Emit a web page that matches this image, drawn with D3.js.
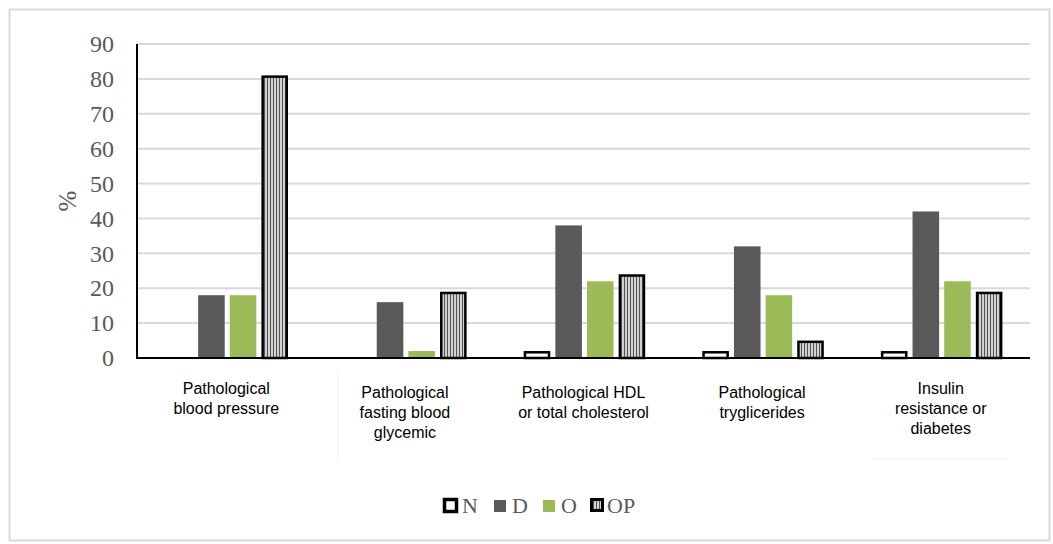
<!DOCTYPE html>
<html>
<head>
<meta charset="utf-8">
<script src="https://cdn.jsdelivr.net/npm/d3@7"></script>
<style>
  body { margin: 0; background: #fff; }
</style>
</head>
<body>
<div id="vis"></div>
<script>
// chart data
const categories = [
    ['Pathological', 'blood pressure'],
    ['Pathological', 'fasting blood', 'glycemic'],
    ['Pathological HDL', 'or total cholesterol'],
    ['Pathological', 'tryglicerides'],
    ['Insulin', 'resistance or', 'diabetes']
]
const seriesNames = ['N', 'D', 'O', 'OP']
const valuesN = [0, 0, 2, 2, 2]
const valuesD = [18, 16, 38, 32, 42]
const valuesO = [18, 2, 22, 18, 22]
const valuesOP = [81, 19, 24, 5, 19]
const yTicks = [0, 10, 20, 30, 40, 50, 60, 70, 80, 90]

const width = 1053
const height = 544
const plot = { left: 137, right: 1030, top: 44, bottom: 358 }

const svg = d3.select('#vis')
    .append('svg')
    .attr('width', width)
    .attr('height', height)

//stripes for the OP bars
const defs = svg.append('defs')
const pat = defs.append('pattern')
    .attr('id', 'stripes')
    .attr('patternUnits', 'userSpaceOnUse')
    .attr('width', 3)
    .attr('height', 10)
pat.append('rect').attr('width', 3).attr('height', 10).attr('fill', '#d0d0d0')
pat.append('rect').attr('width', 1).attr('height', 10).attr('fill', '#555')

//outer frame
svg.append('rect')
    .attr('x', 9.5).attr('y', 9.5)
    .attr('width', 1040).attr('height', 531)
    .attr('fill', 'none')
    .attr('stroke', '#d9d9d9')
    .attr('stroke-width', 2)

const y = d3.scaleLinear()
    .domain([0, 90])
    .range([plot.bottom, plot.top])

const x0 = d3.scaleBand()
    .domain(d3.range(categories.length))
    .range([plot.left, plot.right])

const x1 = d3.scaleBand()
    .domain(seriesNames)
    .range([29.5, 151])
    .paddingInner(0.16)

//gridlines
svg.append('g')
    .selectAll('line')
    .data(yTicks.filter(d => d > 0))
    .enter()
    .append('line')
    .attr('x1', plot.left).attr('x2', plot.right)
    .attr('y1', d => y(d)).attr('y2', d => y(d))
    .attr('stroke', '#d9d9d9')
    .attr('stroke-width', 2)

//y axis labels
const yAxis = d3.axisLeft(y).tickValues(yTicks).tickSize(0).tickPadding(23)
const gy = svg.append('g')
    .attr('transform', `translate(${plot.left},0)`)
    .call(yAxis)
gy.select('.domain').remove()
gy.selectAll('text')
    .attr('font-family', 'Liberation Serif, serif')
    .attr('font-size', 24)
    .attr('fill', '#595959')

svg.append('text')
    .attr('transform', 'translate(76,201) rotate(-90)')
    .attr('text-anchor', 'middle')
    .attr('font-family', 'Liberation Serif, serif')
    .attr('font-size', 25)
    .attr('fill', '#595959')
    .text('%')

//bars
const series = [
    { name: 'N', values: valuesN },
    { name: 'D', values: valuesD },
    { name: 'O', values: valuesO },
    { name: 'OP', values: valuesOP }
]
const fills = { N: '#fff', D: '#595959', O: '#9bbb59', OP: 'url(#stripes)' }
const strokes = { N: '#000', D: 'none', O: 'none', OP: '#000' }

series.forEach(s => {
    const inset = strokes[s.name] !== 'none' ? 1.25 : 0
    svg.append('g')
        .selectAll('rect')
        .data(s.values.map((v, i) => ({ i, v })).filter(d => d.v > 0))
        .enter()
        .append('rect')
        .attr('x', d => x0(d.i) + x1(s.name) + inset)
        .attr('width', x1.bandwidth() - 2 * inset)
        .attr('y', d => y(d.v) + inset)
        .attr('height', d => y(0) - y(d.v) - inset)
        .attr('fill', fills[s.name])
        .attr('stroke', strokes[s.name])
        .attr('stroke-width', 2.5)
})

//axis lines
svg.append('line')
    .attr('x1', plot.left).attr('x2', plot.left)
    .attr('y1', plot.top).attr('y2', plot.bottom)
    .attr('stroke', '#000').attr('stroke-width', 2)
svg.append('line')
    .attr('x1', plot.left - 1).attr('x2', plot.right)
    .attr('y1', plot.bottom).attr('y2', plot.bottom)
    .attr('stroke', '#000').attr('stroke-width', 2)

//category labels
const labels = svg.append('g')
    .selectAll('text')
    .data(categories)
    .enter()
    .append('text')
    .attr('text-anchor', 'middle')
    .attr('font-family', 'Liberation Sans, Arial, sans-serif')
    .attr('font-size', 16)
    .attr('fill', '#000')
    .attr('x', (d, i) => x0(i) + x0.bandwidth() / 2)
    .attr('y', (d, i) => i === 0 || i === 4 ? 394 : 398)
labels.selectAll('tspan')
    .data(d => d)
    .enter()
    .append('tspan')
    .attr('x', function () { return this.parentNode.getAttribute('x') })
    .attr('dy', (d, i) => i === 0 ? 0 : 20)
    .text(d => d)

//faint text box edges
svg.append('line')
    .attr('x1', 338).attr('x2', 338).attr('y1', 373).attr('y2', 461)
    .attr('stroke', '#eeeeee')
svg.append('line')
    .attr('x1', 873).attr('x2', 1007).attr('y1', 459).attr('y2', 459)
    .attr('stroke', '#eeeee8')

//legend
const legendX = [443, 494, 543, 590]
const legend = svg.append('g')
    .selectAll('g')
    .data(seriesNames)
    .enter()
    .append('g')
    .attr('transform', (d, i) => `translate(${legendX[i]},498)`)
legend.append('rect')
    .attr('x', d => d === 'N' || d === 'OP' ? 1.5 : 0)
    .attr('y', d => d === 'N' || d === 'OP' ? 1.5 : 2)
    .attr('width', d => d === 'N' ? 12 : (d === 'OP' ? 11 : 12))
    .attr('height', d => d === 'N' ? 12 : (d === 'OP' ? 11 : 12))
    .attr('fill', d => fills[d])
    .attr('stroke', d => strokes[d])
    .attr('stroke-width', d => d === 'N' ? 3.5 : 3)
legend.append('text')
    .attr('x', d => d === 'N' ? 19 : (d === 'OP' ? 17 : 18))
    .attr('y', 15)
    .attr('font-family', 'Liberation Serif, serif')
    .attr('font-size', 22)
    .attr('fill', '#595959')
    .text(d => d)
</script>
</body>
</html>
